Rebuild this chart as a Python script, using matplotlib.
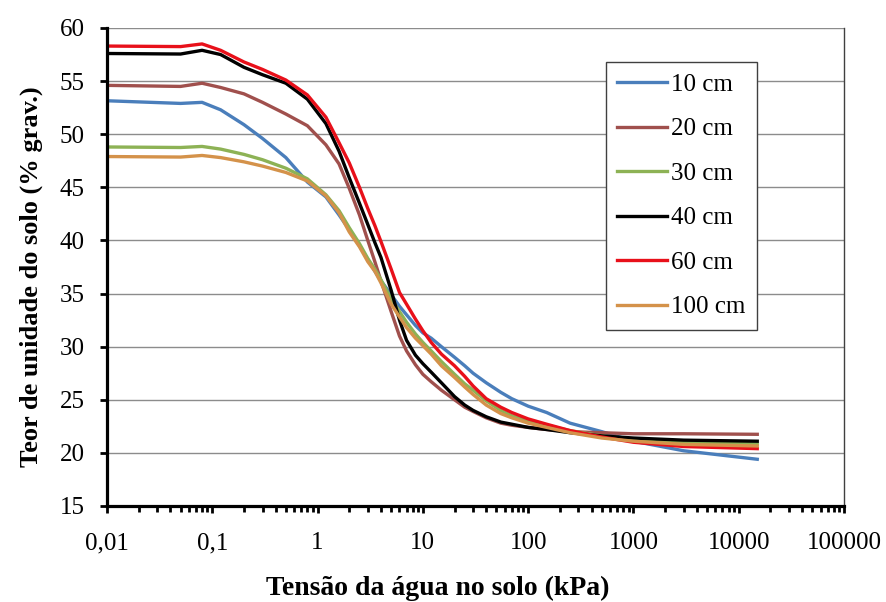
import numpy as np
import matplotlib
matplotlib.use("Agg")
import matplotlib.pyplot as plt
from matplotlib.ticker import FixedLocator, LogLocator, NullFormatter

# water tension (kPa) at the read-off points
tension = [0.01, 0.05, 0.08, 0.12, 0.2, 0.3, 0.5, 0.8, 1.2, 1.6, 2, 2.5, 3, 3.5, 4, 5,
           6, 7, 8.5, 10, 12, 15, 20, 25, 30, 40, 55, 70, 100, 150, 250, 500,
           1000, 3000, 15000]

# soil water content (% grav.) per depth
cm10 = [53.15, 52.9, 53.0, 52.3, 50.9, 49.6, 47.8, 45.5, 44.1, 42.4, 41.0, 39.5,
        38.2, 37.1, 36.2, 34.9, 33.8, 33.0, 32.0, 31.3, 30.8, 30.0, 29.0, 28.2,
        27.5, 26.6, 25.7, 25.1, 24.4, 23.8, 22.8, 22.0, 21.1, 20.2, 19.4]
cm20 = [54.6, 54.5, 54.8, 54.4, 53.8, 53.0, 51.9, 50.8, 49.0, 47.2, 44.9, 42.4,
        40.0, 38.0, 36.2, 33.3, 31.0, 29.6, 28.3, 27.4, 26.7, 25.9, 25.0, 24.3,
        23.9, 23.3, 22.8, 22.6, 22.4, 22.2, 22.0, 21.9, 21.8, 21.8, 21.75]
cm30 = [48.8, 48.75, 48.85, 48.6, 48.1, 47.6, 46.8, 45.8, 44.3, 42.8, 41.2, 39.7,
        38.3, 37.3, 36.3, 34.5, 33.3, 32.3, 31.2, 30.4, 29.6, 28.6, 27.4, 26.5,
        25.9, 24.9, 24.0, 23.5, 23.0, 22.6, 22.1, 21.6, 21.3, 21.0, 20.85]
cm40 = [57.6, 57.55, 57.9, 57.5, 56.3, 55.6, 54.8, 53.3, 51.0, 48.4, 45.9, 43.5,
        41.5, 39.8, 38.4, 35.3, 32.5, 30.6, 29.2, 28.4, 27.6, 26.6, 25.3, 24.5,
        24.0, 23.4, 22.9, 22.7, 22.4, 22.2, 21.9, 21.6, 21.4, 21.2, 21.1]
cm60 = [58.3, 58.25, 58.5, 57.9, 56.8, 56.1, 55.1, 53.7, 51.6, 49.2, 47.3, 45.0,
        43.0, 41.4, 39.9, 37.3, 35.1, 34.0, 32.6, 31.5, 30.4, 29.3, 28.2, 27.2,
        26.3, 25.1, 24.3, 23.8, 23.2, 22.7, 22.1, 21.5, 21.0, 20.6, 20.4]
cm100 = [47.9, 47.85, 48.0, 47.8, 47.4, 47.0, 46.4, 45.6, 44.2, 42.6, 40.8, 39.4,
         38.0, 37.1, 36.0, 34.0, 32.8, 31.8, 30.8, 30.1, 29.3, 28.2, 27.1, 26.2,
         25.5, 24.5, 23.7, 23.3, 22.8, 22.4, 21.9, 21.4, 21.1, 20.8, 20.65]

labels = ["10 cm", "20 cm", "30 cm", "40 cm", "60 cm", "100 cm"]
colors = ["#4A7EBB", "#A0504D", "#8DB255", "#000000", "#E8101A", "#D4924A"]

x_ticks = [0.01, 0.1, 1, 10, 100, 1000, 10000, 100000]
x_labels = ["0,01", "0,1", "1", "10", "100", "1000", "10000", "100000"]
y_ticks = [15, 20, 25, 30, 35, 40, 45, 50, 55, 60]

plt.rcParams["font.family"] = ["Liberation Serif", "DejaVu Serif"]

fig = plt.figure(figsize=(8.86, 6.02), dpi=100)
ax = fig.add_axes([107 / 886, 1 - 506 / 602, 737 / 886, 478 / 602])

for ys, lab, c in zip([cm10, cm20, cm30, cm40, cm60, cm100], labels, colors):
    ax.plot(tension, ys, color=c, lw=2.4, label=lab, solid_joinstyle="round")

ax.set_xscale("log")
ax.set_xlim(0.01, 100000)
ax.set_ylim(15, 60)
ax.xaxis.set_major_locator(FixedLocator(x_ticks))
ax.set_xticklabels(x_labels)
ax.xaxis.set_minor_locator(LogLocator(base=10, subs=np.arange(2, 10)))
ax.xaxis.set_minor_formatter(NullFormatter())
ax.set_yticks(y_ticks)

ax.grid(axis="y", color="#8c8c8c", lw=1)
ax.set_axisbelow(True)

for s in ("left", "bottom"):
    ax.spines[s].set_linewidth(2.3)
    ax.spines[s].set_color("black")
ax.spines["top"].set_visible(False)
ax.spines["right"].set_linewidth(1)
ax.spines["right"].set_color("#404040")

ax.tick_params(axis="y", which="major", direction="out", length=5, width=2,
               pad=11, labelsize=18)
ax.tick_params(axis="x", which="major", direction="out", length=5, width=2,
               pad=14, labelsize=18)
ax.tick_params(axis="x", which="minor", direction="out", length=4, width=2)

ax.set_xlabel("Tensão da água no solo (kPa)", fontsize=20, fontweight="bold")
ax.xaxis.set_label_coords((438 - 107) / 737, -(588 - 506) / 478)
ax.xaxis.label.set_va("center")
ax.set_ylabel("Teor de unidade do solo (% grav.)", fontsize=19, fontweight="bold")
ax.yaxis.set_label_coords(-(107 - 31) / 737, (506 - 277) / 478)
ax.yaxis.label.set_va("center")

leg = ax.legend(loc="upper left", bbox_to_anchor=((606 - 107) / 737, (506 - 62) / 478),
                borderaxespad=0, fontsize=18, handlelength=2.0, handletextpad=0.15,
                labelspacing=0.88, borderpad=0.45, fancybox=False, framealpha=1)
leg.get_frame().set_edgecolor("#404040")
leg.get_frame().set_linewidth(1)

fig.savefig("out.png", dpi=100)
